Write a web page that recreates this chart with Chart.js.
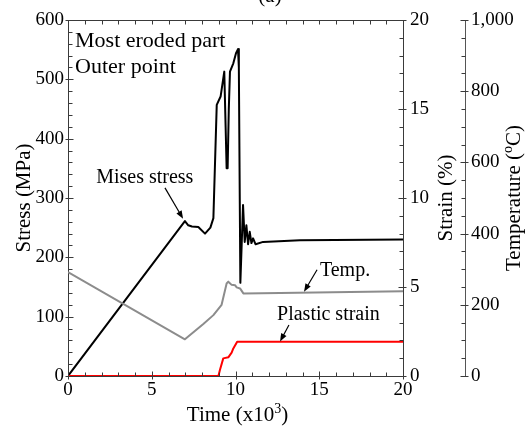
<!DOCTYPE html>
<html>
<head>
<meta charset="utf-8">
<script src="https://cdn.jsdelivr.net/npm/chart.js@4.4.1/dist/chart.umd.min.js"></script>
<style>
  html, body { margin: 0; padding: 0; background: #fff; }
  #wrap { width: 525px; height: 428px; }
</style>
</head>
<body>
<div id="wrap"><canvas id="chart" width="525" height="428"></canvas></div>
<script>
// time is in units of x10^3
const misesTime   = [0, 6.98, 7.18, 7.4, 7.78, 8.18, 8.5, 8.68, 8.88, 9.11, 9.33, 9.41, 9.47, 9.53, 9.6, 9.67, 9.87, 10.03, 10.15, 10.2, 10.29, 10.45, 10.55, 10.65, 10.75, 10.85, 10.95, 11.05, 11.2, 11.65, 13.85, 20];
const misesStress = [0, 261, 254, 252, 251, 240, 250, 266, 457, 471, 513, 420, 350, 350, 450, 513, 527, 544, 551, 520, 157, 288, 226, 254, 222, 243, 224, 232, 222, 226, 229, 230];

const tempTime  = [0, 6.98, 8.08, 8.68, 9.17, 9.47, 9.57, 9.77, 9.97, 10.07, 10.27, 10.47, 12.66, 20];
const tempValue = [292, 103, 146, 171, 200, 260, 265, 256, 255, 249, 246, 232, 233, 238];

const strainTime  = [0, 8.98, 9.07, 9.27, 9.57, 9.77, 9.87, 10.1, 20];
const strainValue = [0, 0, 0.34, 0.99, 1.05, 1.31, 1.55, 1.93, 1.93];

const timeTicks   = [0, 5, 10, 15, 20];
const stressTicks = [0, 100, 200, 300, 400, 500, 600];
const strainTicks = [0, 5, 10, 15, 20];
const tempTicks   = [0, 200, 400, 600, 800, 1000];

const SERIF = '"Liberation Serif", "Times New Roman", serif';
const AXIS_COLOR = '#3a3a3a';

const pts = (xs, ys) => xs.map((x, i) => ({ x: x, y: ys[i] }));
const fixTicks = list => scale => { scale.ticks = list.map(v => ({ value: v })); };

// inward minor ticks, major ticks crossing the axis line
function vTicks(ctx, scale, xPos, dir, minorStep) {
  for (let v = scale.min; v <= scale.max + 1e-9; v += minorStep) {
    const y = Math.round(scale.getPixelForValue(v)) + 0.5;
    const major = scale.ticks.some(t => Math.abs(t.value - v) < 1e-9);
    ctx.beginPath();
    if (major) { ctx.moveTo(xPos - dir * 3, y); ctx.lineTo(xPos + dir * 5, y); }
    else { ctx.moveTo(xPos, y); ctx.lineTo(xPos + dir * 4, y); }
    ctx.stroke();
  }
}
function hTicks(ctx, scale, yPos, dir, minorStep, cross) {
  for (let v = scale.min; v <= scale.max + 1e-9; v += minorStep) {
    const x = Math.round(scale.getPixelForValue(v)) + 0.5;
    const major = scale.ticks.some(t => Math.abs(t.value - v) < 1e-9);
    ctx.beginPath();
    if (major && cross) { ctx.moveTo(x, yPos - dir * 3); ctx.lineTo(x, yPos + dir * 5); }
    else { ctx.moveTo(x, yPos); ctx.lineTo(x, yPos + dir * 4); }
    ctx.stroke();
  }
}

// text made of parts, some superscript
function drawParts(ctx, parts, x, y, size, rotate) {
  ctx.save();
  ctx.translate(x, y);
  if (rotate) ctx.rotate(-Math.PI / 2);
  const fonts = parts.map(p => (p.sup ? Math.round(size * 0.65) : size) + 'px ' + SERIF);
  let total = 0;
  const widths = parts.map((p, i) => { ctx.font = fonts[i]; const w = ctx.measureText(p.t).width; total += w; return w; });
  let cx = -total / 2;
  ctx.textBaseline = 'alphabetic';
  ctx.textAlign = 'left';
  ctx.fillStyle = '#000';
  parts.forEach((p, i) => {
    ctx.font = fonts[i];
    ctx.fillText(p.t, cx, p.sup ? -size * 0.38 : 0);
    cx += widths[i];
  });
  ctx.restore();
}

function arrow(ctx, x1, y1, x2, y2) {
  const ang = Math.atan2(y2 - y1, x2 - x1);
  const len = 8, wid = 3;
  ctx.beginPath();
  ctx.moveTo(x1, y1);
  ctx.lineTo(x2 - Math.cos(ang) * len * 0.8, y2 - Math.sin(ang) * len * 0.8);
  ctx.stroke();
  ctx.beginPath();
  ctx.moveTo(x2, y2);
  ctx.lineTo(x2 - Math.cos(ang) * len + Math.sin(ang) * wid, y2 - Math.sin(ang) * len - Math.cos(ang) * wid);
  ctx.lineTo(x2 - Math.cos(ang) * len - Math.sin(ang) * wid, y2 - Math.sin(ang) * len + Math.cos(ang) * wid);
  ctx.closePath();
  ctx.fill();
}

const decorPlugin = {
  id: 'decor',
  afterDraw(chart) {
    const ctx = chart.ctx;
    const a = chart.chartArea;
    const sx = chart.scales.x, sy = chart.scales.y, ss = chart.scales.yStrain, st = chart.scales.yTemp;
    ctx.save();
    ctx.strokeStyle = AXIS_COLOR;
    ctx.lineWidth = 1;
    // top frame line
    ctx.beginPath();
    ctx.moveTo(a.left, Math.round(a.top) + 0.5);
    ctx.lineTo(a.right, Math.round(a.top) + 0.5);
    ctx.stroke();
    hTicks(ctx, sx, Math.round(a.bottom) + 0.5, -1, 1, true);
    hTicks(ctx, sx, Math.round(a.top) + 0.5, 1, 1, false);
    vTicks(ctx, sy, Math.round(a.left) + 0.5, 1, 20);
    vTicks(ctx, ss, Math.round(a.right) + 0.5, -1, 1);
    vTicks(ctx, st, Math.round(st.left) + 0.5, -1, 50);

    // axis titles
    drawParts(ctx, [{ t: 'Time (x10' }, { t: '3', sup: true }, { t: ')' }], (a.left + a.right) / 2 + 2, 421, 21, false);
    drawParts(ctx, [{ t: 'Stress (MPa)' }], 30, (a.top + a.bottom) / 2, 21, true);
    drawParts(ctx, [{ t: 'Strain (%)' }], 452, (a.top + a.bottom) / 2, 21, true);
    drawParts(ctx, [{ t: 'Temperature (' }, { t: 'o', sup: true }, { t: 'C)' }], 520, (a.top + a.bottom) / 2, 21, true);
    drawParts(ctx, [{ t: '(a)' }], 270, 2, 21, false);

    // annotations placed in data coordinates (time, stress)
    ctx.fillStyle = '#000';
    ctx.textAlign = 'left';
    ctx.textBaseline = 'alphabetic';
    ctx.font = '22px ' + SERIF;
    ctx.fillText('Most eroded part', sx.getPixelForValue(0.42), sy.getPixelForValue(555));
    ctx.fillText('Outer point', sx.getPixelForValue(0.42), sy.getPixelForValue(511));
    ctx.font = '20px ' + SERIF;
    ctx.fillText('Mises stress', sx.getPixelForValue(1.68), sy.getPixelForValue(325));
    ctx.fillText('Temp.', sx.getPixelForValue(15.04), sy.getPixelForValue(168));
    ctx.fillText('Plastic strain', sx.getPixelForValue(12.48), sy.getPixelForValue(94));

    ctx.strokeStyle = '#000';
    ctx.lineWidth = 1.2;
    arrow(ctx, sx.getPixelForValue(5.79), sy.getPixelForValue(317), sx.getPixelForValue(6.87), sy.getPixelForValue(265));
    arrow(ctx, sx.getPixelForValue(14.87), sy.getPixelForValue(179), sx.getPixelForValue(14.09), sy.getPixelForValue(142));
    arrow(ctx, sx.getPixelForValue(13.19), sy.getPixelForValue(86), sx.getPixelForValue(12.66), sy.getPixelForValue(58));
    ctx.restore();
  }
};

const tickFont = { family: SERIF, size: 19 };
const axisBorder = { display: true, color: AXIS_COLOR, width: 1 };

const chart = new Chart(document.getElementById('chart').getContext('2d'), {
  type: 'line',
  data: {
    datasets: [
      { label: 'Temp.', data: pts(tempTime, tempValue), yAxisID: 'yTemp', borderColor: '#8c8c8c', borderWidth: 2 },
      { label: 'Plastic strain', data: pts(strainTime, strainValue), yAxisID: 'yStrain', borderColor: '#ff0000', borderWidth: 2 },
      { label: 'Mises stress', data: pts(misesTime, misesStress), yAxisID: 'y', borderColor: '#000000', borderWidth: 2 }
    ]
  },
  options: {
    responsive: false,
    animation: false,
    devicePixelRatio: 1,
    elements: { point: { radius: 0 }, line: { tension: 0, borderJoinStyle: 'round' } },
    layout: { autoPadding: false, padding: { top: 20, left: 0, right: 0, bottom: 0 } },
    plugins: { legend: { display: false }, tooltip: { enabled: false } },
    scales: {
      x: {
        type: 'linear', position: 'bottom', min: 0, max: 20,
        afterBuildTicks: fixTicks(timeTicks),
        afterFit: s => { s.height = 52; },
        grid: { display: false, drawTicks: false },
        border: axisBorder,
        ticks: { font: tickFont, color: '#000', padding: 3, maxRotation: 0 }
      },
      y: {
        type: 'linear', position: 'left', min: 0, max: 600,
        afterBuildTicks: fixTicks(stressTicks),
        afterFit: s => { s.width = 68; },
        grid: { display: false, drawTicks: false },
        border: axisBorder,
        ticks: { font: tickFont, color: '#000', padding: 4 }
      },
      yStrain: {
        type: 'linear', position: 'right', min: 0, max: 20, weight: 0,
        afterBuildTicks: fixTicks(strainTicks),
        afterFit: s => { s.width = 62; },
        grid: { display: false, drawTicks: false },
        border: axisBorder,
        ticks: { font: tickFont, color: '#000', padding: 7 }
      },
      yTemp: {
        type: 'linear', position: 'right', min: 0, max: 1000, weight: 1,
        afterBuildTicks: fixTicks(tempTicks),
        afterFit: s => { s.width = 60; },
        grid: { display: false, drawTicks: false },
        border: { display: true, color: '#555', width: 1 },
        ticks: { font: tickFont, color: '#000', padding: 6 }
      }
    }
  },
  plugins: [decorPlugin]
});
</script>
</body>
</html>
